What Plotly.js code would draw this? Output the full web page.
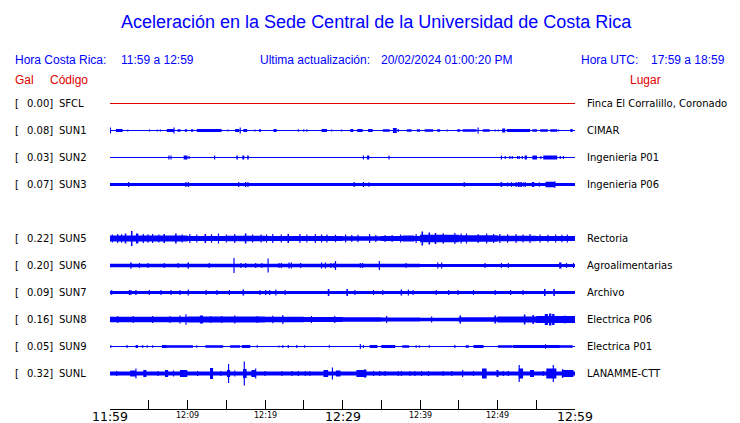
<!DOCTYPE html>
<html><head><meta charset="utf-8">
<script src="https://cdn.plot.ly/plotly-3.0.1.min.js"></script>
<style>html,body{margin:0;padding:0;background:#fff;overflow:hidden}</style>
</head><body><div id="chart" style="width:740px;height:423px"></div>
<script>
// ---------------- DATA ----------------
const codes = ['SFCL','SUN1','SUN2','SUN3','SUN4','SUN5','SUN6','SUN7','SUN8','SUN9','SUNL'];
const galPeak = [0.00,0.08,0.03,0.07,null,0.22,0.20,0.09,0.16,0.05,0.32];
const sites = ['Finca El Corralillo, Coronado','CIMAR','Ingenieria P01','Ingenieria P06','',
  'Rectoria','Agroalimentarias','Archivo','Electrica P06','Electrica P01','LANAMME-CTT'];
const tickMinutes = [0,5,10,15,20,25,30,35,40,45,50,55,60];
const tickLabels = ['11:59','','12:09','','12:19','','12:29','','12:39','','12:49','','12:59'];
const tickMajor  = [true,false,false,false,false,false,true,false,false,false,false,false,true];

// background amplitude (half envelope, trace units) per 5-minute block
const baseSFCL = [0.5,0.5,0.5,0.5,0.5,0.5,0.5,0.5,0.5,0.5,0.5,0.5];
const baseSUN1 = [0.5,0.5,0.5,0.5,0.5,0.5,0.5,0.5,0.5,0.5,0.5,0.5];
const baseSUN2 = [0.5,0.5,0.5,0.5,0.5,0.5,0.5,0.5,0.5,0.5,0.5,0.5];
const baseSUN3 = [1.5,1.5,1.5,1.5,1.5,1.5,1.5,1.5,1.5,1.5,1.5,1.5];
const baseSUN5 = [3.1,3.0,2.5,2.7,2.5,2.4,2.2,2.4,3.8,3.2,2.7,2.5];
const baseSUN6 = [1.8,1.8,1.8,1.8,1.8,1.8,1.8,1.7,1.6,1.6,1.6,1.6];
const baseSUN7 = [1.5,1.5,1.5,1.5,1.5,1.5,1.5,1.5,1.5,1.5,1.5,1.5];
const baseSUN8 = [2.8,2.8,3.0,3.0,2.7,2.5,2.2,2.0,1.8,2.3,3.0,3.5];
const baseSUN9 = [0.6,0.6,0.6,0.6,0.6,0.6,0.6,0.6,0.6,0.6,0.6,0.6];
const baseSUNL = [2,2,2,2,2,2,2,2,2,2,2,2];

// events: [minute after 11:59, half amplitude, duration in minutes]
const eventsSFCL = [];
const eventsSUN1 = [[0.05,3,0.15],[1.2,1.5,0.87],[2.3,1,0.15],[5.1,1,0.15],[6.1,1,0.15],[6.5,1,0.15],
  [7.75,1.5,0.85],[8.26,3,0.15],[8.9,1.3,0.4],[9.8,1.3,0.3],[10.6,1.3,0.3],[12.8,1.5,3.2],[15.2,1,0.15],
  [16.4,1.5,0.5],[16.8,3,0.15],[17.45,1.5,0.5],[18.7,1,0.15],[19.35,1.5,0.2],[21.3,1.5,0.4],[24.3,1.2,0.15],
  [25.0,1.2,0.15],[25.4,1.2,0.15],[27.65,1.5,0.7],[28.6,1,0.15],[29.9,1,0.15],[31.2,1.5,0.4],[32.25,1.5,0.7],
  [33.6,1.5,0.6],[35.65,1.2,0.9],[36.75,2.5,0.5],[37.2,1.3,0.2],[38.6,1.3,0.6],[39.8,1.3,0.4],[41.15,1.3,1.1],
  [42.4,1.3,0.4],[43.5,1,0.15],[45.0,1.3,0.4],[46.4,1.3,1.8],[47.5,3,0.15],[48.55,1.3,0.9],[49.7,1,0.15],
  [50.1,1,0.15],[50.8,2,0.4],[52.7,1.5,3.0],[54.8,1.3,0.6],[56.0,1.3,1.0],[57.25,1.3,0.9],[57.9,1,0.15],[59.55,1.5,0.3]];
const eventsSUN2 = [[7.6,2,0.15],[7.87,2,0.15],[9.75,2,0.5],[10.2,1.5,0.15],[13.5,2,0.15],[16.4,2,0.2],
  [17.2,2,0.25],[17.8,2,0.2],[32.7,2,0.15],[33.3,2,0.3],[36.0,2,0.15],[50.5,2,0.15],[51.0,1.5,0.15],
  [51.6,1.5,0.15],[51.9,1.5,0.15],[52.6,1.5,0.15],[52.8,1.5,0.15],[53.2,1.5,0.15],[53.65,2,0.3],[54.8,2,0.6],
  [55.6,1.5,0.15],[56.8,2,1.8],[58.1,1.5,0.15],[58.5,1.5,0.15]];
const eventsSUN3 = [[2.4,2.5,0.15],[9.8,2.5,0.15],[10.1,2.5,0.15],[16.6,2.5,0.15],[17.5,2.5,0.15],[17.8,2.5,0.15],
  [31.5,2.5,0.15],[32.7,2.5,0.15],[33.4,2.2,0.15],[45.7,2.5,0.15],[50.5,2.5,0.2],[51.3,2,0.15],[51.8,2.2,0.15],
  [52.4,2.5,0.15],[52.7,2.5,0.15],[52.9,2.5,0.15],[53.1,2.5,0.15],[53.4,2.3,0.15],[53.6,2.3,0.15],[54.6,2.5,0.3],
  [55.4,2.2,0.15],[56.8,2.7,1.2],[57.4,3.2,0.15]];
const eventsSUN5 = [[0.3,4,0.15],[1.0,4.5,0.15],[1.5,4.2,0.15],[2.0,5,0.2],[2.8,7.5,0.2],[3.5,5,0.3],[4.3,4.5,0.15],
  [4.9,4.2,0.15],[5.5,4.5,0.15],[6.3,4,0.15],[7.0,4.5,0.2],[8.5,5,0.2],[9.3,4,0.15],[10.3,4.5,0.15],[11.2,4,0.15],
  [12.3,4.5,0.2],[13.1,4.2,0.15],[14.0,5,0.15],[15.0,4,0.15],[16.1,4.5,0.15],[17.5,5,0.2],[18.4,4,0.15],
  [19.5,4,0.15],[20.2,4,0.15],[21.0,4.5,0.15],[22.1,4,0.15],[23.0,4.5,0.2],[24.5,4.5,0.15],[25.4,4,0.15],
  [26.5,4.5,0.15],[27.3,4,0.15],[28.0,4,0.15],[29.1,3.8,0.15],[30.4,4,0.15],[31.2,3.5,0.15],[32.0,3.8,0.15],
  [33.5,4.5,0.15],[34.3,3.5,0.15],[35.5,3.5,0.15],[36.4,3.5,0.15],[37.5,4,0.15],[38.5,3,1.5],[39.5,4.5,0.15],
  [40.3,7,0.2],[41.2,6,0.2],[42.0,5.5,0.2],[43.0,5,0.2],[44.5,5.5,0.15],[45.3,5,0.15],[46.0,5,0.15],
  [47.5,4.5,0.15],[48.6,5,0.15],[49.5,4.5,0.15],[50.3,4.5,0.15],[51.3,4.2,0.15],[52.4,4.5,0.15],[53.3,4,0.15],
  [54.2,4.5,0.15],[55.5,4,0.15],[56.5,3.8,0.15],[57.5,4,0.15],[58.3,3.8,0.15],[59.0,4,0.15]];
const eventsSUN6 = [[2.7,3,0.2],[3.8,2.5,0.15],[4.9,2.5,0.15],[7.0,2.5,0.15],[8.8,2.5,0.15],[10.1,3,0.2],
  [12.8,2.5,0.15],[16.0,7.5,0.15],[16.9,2.5,0.15],[17.5,2.5,0.15],[18.8,2.5,0.15],[19.6,2.5,0.15],[20.4,7,0.15],
  [21.8,2.5,0.15],[22.1,2.5,0.15],[23.1,3,0.15],[23.4,3,0.15],[24.6,2.5,0.15],[27.3,3,0.15],[27.8,3,0.15],
  [28.5,2.5,0.15],[28.9,2.5,0.15],[29.1,4.5,0.15],[32.3,2.5,0.15],[32.6,2.5,0.15],[34.75,4.5,0.15],[38.2,2.5,0.15],
  [42.3,3,0.15],[42.8,3,0.15],[48.4,2.5,0.15],[50.5,2.5,0.15],[51.4,2.5,0.15],[58.1,3,0.3],[58.9,2.5,0.15],[59.8,2.5,0.15]];
const eventsSUN7 = [[0.2,2.2,0.2],[2.5,2.5,0.15],[2.7,2.5,0.15],[3.35,2.5,0.15],[5.07,2.5,0.15],[6.58,2.5,0.15],
  [7.87,2.5,0.15],[9.03,2.5,0.15],[10.1,3,0.15],[12.4,2.5,0.15],[13.8,2.5,0.15],[15.4,2.5,0.15],[17.2,3,0.2],
  [19.35,2.5,0.15],[20.1,2.5,0.15],[20.6,2.5,0.15],[21.4,3,0.15],[22.6,2.5,0.15],[28.2,3.5,0.2],[30.6,3.5,0.2],
  [31.6,2.5,0.15],[34.0,2.5,0.15],[35.2,2.5,0.15],[37.6,3,0.2],[38.5,3,0.15],[39.1,2.5,0.15],[42.1,2.5,0.15],
  [43.7,2.5,0.15],[44.9,2.5,0.15],[46.9,2.5,0.15],[49.7,2.5,0.15],[51.7,2.5,0.15],[53.3,2.5,0.15],[56.1,3.5,0.2],[57.3,3.5,0.2]];
const eventsSUN8 = [[1.0,3.5,0.15],[3.0,3.5,0.15],[5.5,3.5,0.15],[7.74,3.5,0.15],[9.03,4,0.15],[9.8,5.3,0.15],
  [11.8,4,0.4],[13.0,3.5,0.15],[14.4,3.5,0.15],[16.1,4,0.15],[19.0,3.5,0.15],[21.0,3.8,0.15],[22.3,4.5,0.15],
  [26.0,3.5,0.15],[29.0,3.5,0.15],[35.7,3.5,0.15],[41.5,3,0.15],[45.2,4,0.2],[49.7,4,0.2],[53.5,5,0.2],
  [54.6,4.5,0.2],[56.3,5.5,0.4],[56.8,6,0.3],[57.2,5.5,0.3],[58.7,4,0.15]];
const eventsSUN9 = [[0.1,1.2,0.15],[2.2,1.5,0.15],[3.45,1.5,0.3],[4.2,1.2,0.2],[4.8,1.2,0.15],[5.5,1.2,0.15],
  [7.0,1.5,0.6],[7.95,1.3,1.3],[9.65,1.3,2.1],[11.2,1.2,0.15],[12.5,1.2,0.4],[13.65,1.3,1.9],[16.15,1.3,1.3],
  [17.55,1.5,1.1],[19.0,1.2,0.15],[21.8,1,0.15],[22.3,1.5,0.15],[23.0,1.5,0.15],[24.1,1.5,0.15],[25.1,1.2,0.15],
  [28.3,1.2,0.15],[32.3,2.5,0.15],[32.7,1.5,0.15],[34.0,1.5,1.0],[35.9,1.5,1.8],[38.15,1.3,0.9],[39.5,1.2,0.15],
  [39.9,1.2,0.15],[41.2,1.2,0.15],[44.5,1.5,0.15],[46.1,1.2,0.4],[47.55,1.5,1.3],[50.3,1.2,0.15],[51.0,1.3,1.9],
  [55.0,1.5,6.0],[56.2,2.2,0.15],[58.85,1.3,1.7]];
const eventsSUNL = [[0.86,2.5,0.15],[3.0,3,0.8],[3.35,5,0.15],[4.5,3.5,0.4],[6.2,2.5,0.15],[7.3,3.5,0.4],
  [8.2,3,0.15],[9.5,3.5,0.95],[11.3,2.5,0.15],[13.1,5.5,0.4],[14.3,2.5,0.15],[15.3,3.5,0.4],[15.3,9.5,0.15],
  [16.1,3,0.15],[17.4,4.5,0.45],[17.33,12,0.15],[18.5,3.5,0.5],[18.8,5,0.15],[20.0,2.5,0.15],[22.2,2.5,0.15],
  [23.5,2.5,0.15],[24.3,2.5,0.15],[25.2,2.5,0.15],[25.8,2.5,0.15],[27.85,3.5,0.6],[28.7,6,0.15],[29.45,3,0.6],
  [32.45,3.5,1.3],[32.9,4.5,0.15],[34.0,2.5,0.15],[34.8,2.5,0.15],[35.5,2.5,0.15],[37.2,2.5,0.15],[37.6,2.5,0.15],
  [38.7,2.5,0.15],[39.35,2.5,0.15],[40.2,2.5,0.15],[41.1,2.5,0.15],[43.0,2.5,0.15],[44.1,2.5,0.15],[45.5,3.5,0.15],
  [46.9,2.5,0.15],[48.3,5,0.6],[50.0,3.5,0.25],[50.75,2.5,0.15],[51.4,2.5,0.15],[53.0,5,0.6],[52.8,8.5,0.15],
  [54.45,3.5,0.5],[55.9,2.5,0.15],[56.95,5,1.3],[57.2,8.5,0.15],[59.05,3.5,1.5],[58.4,4.5,0.15]];

// ---------------- BUILD ----------------
const baseByCode = {SFCL:baseSFCL,SUN1:baseSUN1,SUN2:baseSUN2,SUN3:baseSUN3,SUN5:baseSUN5,
  SUN6:baseSUN6,SUN7:baseSUN7,SUN8:baseSUN8,SUN9:baseSUN9,SUNL:baseSUNL};
const eventsByCode = {SFCL:eventsSFCL,SUN1:eventsSUN1,SUN2:eventsSUN2,SUN3:eventsSUN3,SUN5:eventsSUN5,
  SUN6:eventsSUN6,SUN7:eventsSUN7,SUN8:eventsSUN8,SUN9:eventsSUN9,SUNL:eventsSUNL};

const BLUE = '#0000ff', RED = '#e00000';
const AMP = 1/27;             // trace units -> row units
const W = 740, H = 423, L = 110, R = 165, T = 89, B = 14;
const PW = W - L - R, PH = H - T - B;
const ROW0 = 103.5, ROWPX = 27;
const yTop = (T - ROW0) / ROWPX, yBot = (H - B - ROW0) / ROWPX;

function envelope(base, evs) {
  const span = ev => Math.max(ev[2], 0.15) / 2;
  let br = [];
  for (let s = 0; s <= 12; s++) br.push(s * 5);
  evs.forEach(ev => { br.push(Math.max(0, ev[0] - span(ev))); br.push(Math.min(60, ev[0] + span(ev))); });
  br = Array.from(new Set(br.map(v => +v.toFixed(4)))).sort((a, b) => a - b);
  const seg = [];
  for (let i = 0; i < br.length - 1; i++) {
    const a = br[i], b = br[i + 1];
    if (b - a < 1e-6) continue;
    const m = (a + b) / 2;
    let amp = base[Math.min(11, Math.floor(m / 5))];
    evs.forEach(ev => { if (Math.abs(m - ev[0]) <= span(ev)) amp = Math.max(amp, ev[1]); });
    seg.push([a, b, amp]);
  }
  return seg;
}

const traces = [];
codes.forEach((c, row) => {
  if (galPeak[row] === null) return;
  const seg = envelope(baseByCode[c], eventsByCode[c]);
  const xs = [], ys = [];
  seg.forEach(s => { xs.push(s[0], s[1]); ys.push(row - s[2] * AMP, row - s[2] * AMP); });
  for (let i = seg.length - 1; i >= 0; i--) {
    const s = seg[i]; xs.push(s[1], s[0]); ys.push(row + s[2] * AMP, row + s[2] * AMP);
  }
  const col = c === 'SFCL' ? RED : BLUE;
  traces.push({x: xs, y: ys, type: 'scatter', mode: 'lines', fill: 'toself',
    fillcolor: col, line: {width: 0, color: col, simplify: false}, hoverinfo: 'skip', showlegend: false});
});

// ---------------- TEXT ----------------
const px = x => (x - L) / PW, py = y => (H - B - y) / PH;
const annotations = [];
function txt(text, x, y, size, color, family, xanchor) {
  annotations.push({text: text, xref: 'paper', yref: 'paper', x: px(x), y: py(y),
    xanchor: xanchor || 'left', yanchor: 'middle', showarrow: false, borderpad: 0, borderwidth: 0,
    font: {size: size, color: color, family: family}});
}
const SANS = 'Liberation Sans, Arial, sans-serif', DJ = 'DejaVu Sans, sans-serif';
txt('Aceleración en la Sede Central de la Universidad de Costa Rica', 376, 22, 18, BLUE, SANS, 'center');
txt('Hora Costa Rica:', 15, 60.5, 12, BLUE, SANS);
txt('11:59 a 12:59', 120.5, 60.5, 12, BLUE, SANS);
txt('Ultima actualización:', 260, 60.5, 12, BLUE, SANS);
txt('20/02/2024 01:00:20 PM', 381, 60.5, 12, BLUE, SANS);
txt('Hora UTC:', 580.5, 60.5, 12, BLUE, SANS);
txt('17:59 a 18:59', 650.5, 60.5, 12, BLUE, SANS);
txt('Gal', 15, 80.5, 12, RED, SANS);
txt('Código', 50, 80.5, 12, RED, SANS);
txt('Lugar', 630, 80.5, 12, RED, SANS);
codes.forEach((c, row) => {
  if (galPeak[row] === null) return;
  const y = ROW0 + row * ROWPX;
  txt('[', 15, y, 10, '#000', DJ);
  txt(galPeak[row].toFixed(2) + ']', 27.3, y, 10, '#000', DJ);
  txt(c, 58.5, y, 10, '#000', DJ);
  txt(sites[row], 587, y, 10, '#000', DJ);
});
tickMinutes.forEach((m, i) => {
  if (!tickLabels[i]) return;
  annotations.push({text: tickLabels[i], xref: 'x', yref: 'paper', x: m, y: py(tickMajor[i] ? 416.5 : 415.5),
    xanchor: 'center', yanchor: 'middle', showarrow: false, borderpad: 0, borderwidth: 0,
    font: {size: tickMajor[i] ? 12.5 : 8, color: '#000', family: DJ}});
});

const layout = {
  width: W, height: H, margin: {l: L, r: R, t: T, b: B, pad: 0},
  paper_bgcolor: '#fff', plot_bgcolor: '#fff', showlegend: false,
  xaxis: {range: [0, 60], showline: true, linecolor: '#000', linewidth: 1, ticks: 'inside', ticklen: 9,
    tickwidth: 1, tickcolor: '#000', tickmode: 'array', tickvals: tickMinutes, showticklabels: false,
    showgrid: false, zeroline: false, fixedrange: true},
  yaxis: {range: [yBot, yTop], visible: false, showgrid: false, zeroline: false, fixedrange: true},
  annotations: annotations
};
Plotly.newPlot('chart', traces, layout, {displayModeBar: false, staticPlot: true});
</script></body></html>
